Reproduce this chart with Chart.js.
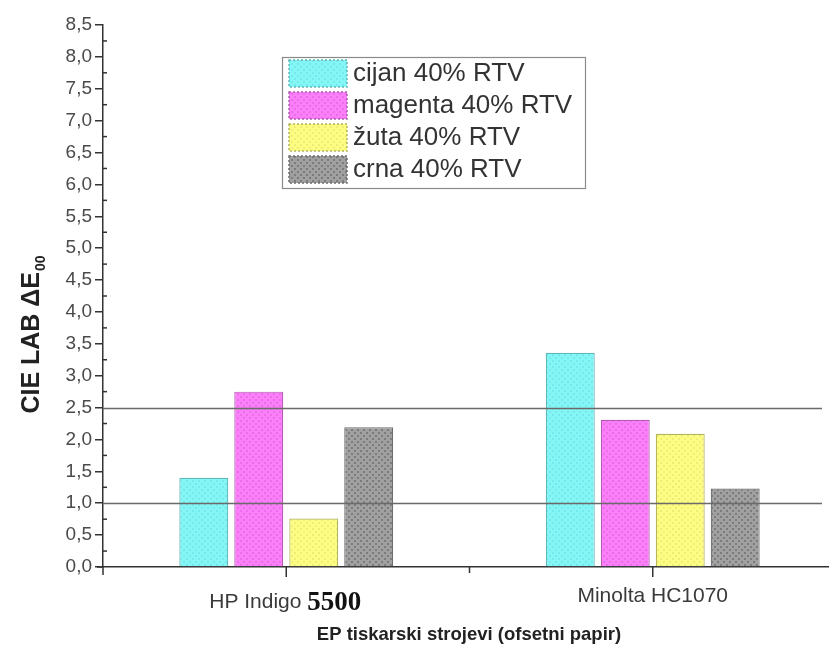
<!DOCTYPE html>
<html>
<head>
<meta charset="utf-8">
<script src="https://cdn.jsdelivr.net/npm/chart.js@4/dist/chart.umd.min.js"></script>
<style>
  body { margin: 0; background: #fff; overflow: hidden; }
  #wrap { width: 836px; height: 648px; }
</style>
</head>
<body>
<div id="wrap"><canvas id="myChart"></canvas></div>
<script>
// data
const categories = ['HP Indigo 5500', 'Minolta HC1070'];
const categoryParts = [['HP Indigo ', '5500'], ['Minolta HC1070', '']];
const seriesLabels = ['cijan 40% RTV', 'magenta 40% RTV', 'žuta 40% RTV', 'crna 40% RTV'];
const cijan = [1.40, 3.36];
const magenta = [2.75, 2.31];
const zuta = [0.76, 2.09];
const crna = [2.19, 1.23];
const referenceLines = [1.0, 2.5];
const yMin = 0, yMax = 8.5, yStep = 0.5;

const SANS = "'Liberation Sans', Arial, sans-serif";

// dotted fill like the original print
const makePattern = (base, dot) => {
  const c = document.createElement('canvas');
  c.width = 6; c.height = 6;
  const g = c.getContext('2d');
  g.fillStyle = base;
  g.fillRect(0, 0, 6, 6);
  g.fillStyle = dot;
  g.fillRect(0, 0, 2, 2);
  g.fillRect(3, 3, 2, 2);
  return g.createPattern(c, 'repeat');
};

const styles = [
  { fill: makePattern('#84f6f6', '#74e8ea'), border: '#5fb8b8' },
  { fill: makePattern('#fb7ff8', '#ea6ee8'), border: '#b45cb4' },
  { fill: makePattern('#fdfd84', '#eeee76'), border: '#b4b45a' },
  { fill: makePattern('#a0a0a0', '#7c7c7c'), border: '#6e6e6e' }
];

const seriesData = [cijan, magenta, zuta, crna];

const extras = {
  id: 'extras',
  afterDatasetsDraw(chart) {
    const { ctx, chartArea, scales: { y } } = chart;
    ctx.save();
    // reference lines
    ctx.strokeStyle = '#6a6a6a';
    ctx.lineWidth = 1.5;
    referenceLines.forEach(v => {
      const py = Math.round(y.getPixelForValue(v)) + 0.5;
      ctx.beginPath();
      ctx.moveTo(chartArea.left, py);
      ctx.lineTo(822, py);
      ctx.stroke();
    });
    ctx.restore();
  },
  afterDraw(chart) {
    const { ctx, chartArea, scales: { x, y } } = chart;
    ctx.save();
    ctx.strokeStyle = '#333';
    ctx.lineWidth = 1.5;
    // minor y ticks
    for (let v = yMin + yStep / 2; v < yMax; v += yStep) {
      const py = y.getPixelForValue(v);
      ctx.beginPath();
      ctx.moveTo(chartArea.left, py);
      ctx.lineTo(chartArea.left + 4, py);
      ctx.stroke();
    }
    // x ticks at categories and between them
    const c0 = x.getPixelForValue(0), c1 = x.getPixelForValue(1);
    [c0, (c0 + c1) / 2, c1].forEach((px, i) => {
      ctx.beginPath();
      ctx.moveTo(px, chartArea.bottom);
      ctx.lineTo(px, chartArea.bottom + (i === 1 ? 6 : 10));
      ctx.stroke();
    });
    ctx.beginPath();
    ctx.moveTo(chartArea.left, chartArea.bottom);
    ctx.lineTo(chartArea.left, chartArea.bottom + 8);
    ctx.moveTo(chartArea.left - 6, chartArea.bottom);
    ctx.lineTo(chartArea.left, chartArea.bottom);
    ctx.stroke();

    // category labels
    ctx.textBaseline = 'alphabetic';
    categoryParts.forEach((parts, i) => {
      const px = x.getPixelForValue(i);
      ctx.font = '21px ' + SANS;
      ctx.fillStyle = '#3a3a3a';
      if (parts[1]) {
        const start = px - 77;
        ctx.textAlign = 'left';
        ctx.fillText(parts[0], start, 608);
        const w = ctx.measureText(parts[0]).width;
        ctx.font = "bold 27px 'Liberation Serif', 'Times New Roman', serif";
        ctx.fillStyle = '#111';
        ctx.fillText(parts[1], start + w, 610);
      } else {
        ctx.textAlign = 'center';
        ctx.fillText(parts[0], px, 602);
      }
    });

    // x title
    ctx.font = 'bold 18.5px ' + SANS;
    ctx.fillStyle = '#222';
    ctx.textAlign = 'center';
    ctx.fillText('EP tiskarski strojevi (ofsetni papir)', 469, 640);

    // y title with subscript
    ctx.save();
    ctx.translate(39, 335);
    ctx.rotate(-Math.PI / 2);
    ctx.textAlign = 'left';
    ctx.font = 'bold 25px ' + SANS;
    const main = 'CIE LAB ΔE';
    const w1 = ctx.measureText(main).width;
    ctx.font = 'bold 14px ' + SANS;
    const w2 = ctx.measureText('00').width;
    ctx.font = 'bold 25px ' + SANS;
    ctx.fillText(main, -(w1 + w2) / 2, 0);
    ctx.font = 'bold 14px ' + SANS;
    ctx.fillText('00', -(w1 + w2) / 2 + w1 + 1, 6);
    ctx.restore();

    // legend box
    const lx = 282, ly = 57, lw = 303, lh = 131;
    ctx.fillStyle = '#fff';
    ctx.fillRect(lx, ly, lw, lh);
    ctx.strokeStyle = '#8a8a8a';
    ctx.lineWidth = 1.2;
    ctx.strokeRect(lx + 0.5, ly + 0.5, lw, lh);
    chart.data.datasets.forEach((ds, i) => {
      const top = ly + 3 + i * 32;
      ctx.fillStyle = ds.backgroundColor;
      ctx.fillRect(lx + 7, top, 58, 27);
      ctx.setLineDash([2, 2]);
      ctx.strokeStyle = ds.borderColor;
      ctx.lineWidth = 1.5;
      ctx.strokeRect(lx + 7, top, 58, 27);
      ctx.setLineDash([]);
      ctx.fillStyle = '#333';
      ctx.font = '26px ' + SANS;
      ctx.textAlign = 'left';
      ctx.textBaseline = 'middle';
      ctx.fillText(ds.label, lx + 71, top + 14);
    });
    ctx.restore();
  }
};

new Chart(document.getElementById('myChart'), {
  type: 'bar',
  data: {
    labels: categories,
    datasets: seriesLabels.map((label, i) => ({
      label,
      data: seriesData[i],
      backgroundColor: styles[i].fill,
      borderColor: styles[i].border,
      borderWidth: 1.2,
      barPercentage: 0.89,
      categoryPercentage: 0.6
    }))
  },
  options: {
    responsive: true,
    maintainAspectRatio: false,
    animation: false,
    layout: { padding: { top: 25, left: 0, right: 0, bottom: 0 } },
    plugins: { legend: { display: false }, tooltip: { enabled: false } },
    scales: {
      x: {
        ticks: { display: false },
        grid: { display: false },
        border: { color: '#333', width: 1.5 },
        afterFit: scale => { scale.height = 81; }
      },
      y: {
        min: yMin,
        max: yMax,
        ticks: {
          stepSize: yStep,
          color: '#4a4a4a',
          font: { size: 19, family: SANS },
          padding: 3,
          callback: v => Number(v).toFixed(1).replace('.', ',')
        },
        grid: { drawOnChartArea: false, tickLength: 8, color: '#333', lineWidth: 1.5 },
        border: { color: '#333', width: 1.5 },
        afterFit: scale => { scale.width = 103; }
      }
    }
  },
  plugins: [extras]
});
</script>
</body>
</html>
